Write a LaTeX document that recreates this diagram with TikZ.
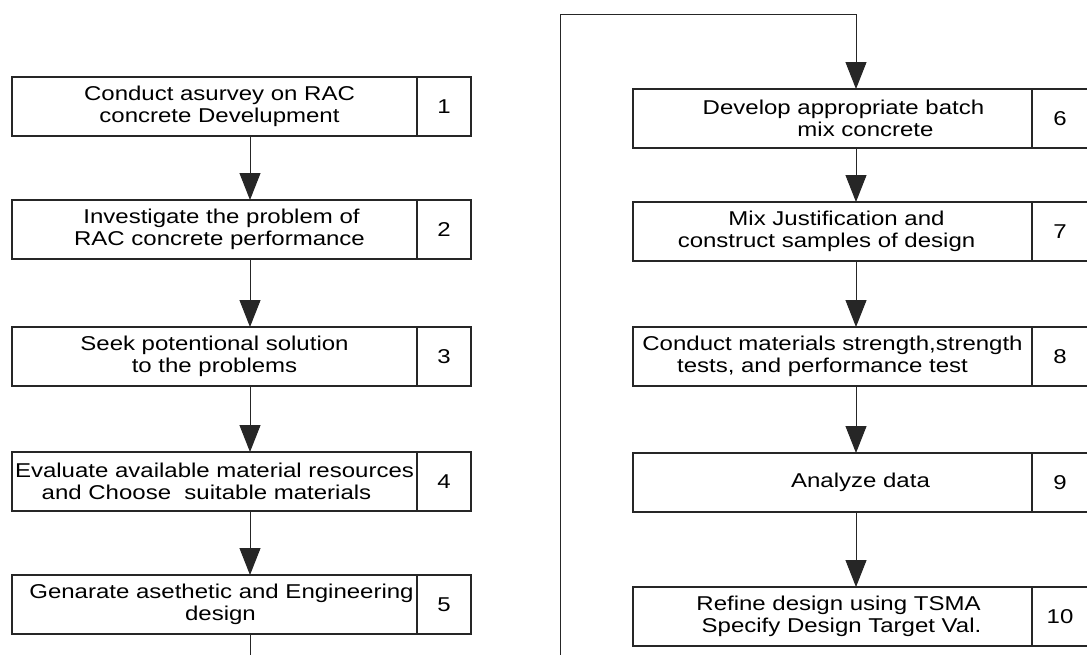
\documentclass[tikz,border=0pt]{standalone}
\usepackage{fontspec}
\setmainfont{Liberation Sans}[FakeStretch=1.2]
\usetikzlibrary{arrows.meta}
\begin{document}
\begin{tikzpicture}[x=1pt,y=-1pt,
  txtcell/.style={draw=black!85, line width=1.1pt, inner sep=0pt, outer sep=0pt,
    anchor=north west, minimum height=59pt, align=center,
    font=\fontsize{20}{22}\selectfont},
  lcell/.style={txtcell, minimum width=405pt},
  rcell/.style={txtcell, minimum width=399pt},
  numcell/.style={txtcell, minimum width=56pt},
  flow/.style={draw=black!85, line width=1pt, -{Triangle[length=27pt,width=21pt]}},
  plain/.style={draw=black!85, line width=1pt}]
\useasboundingbox (0,0) rectangle (1087,654);
\fill[white] (0,0) rectangle (1087,654);

% left column
\node[lcell] (t1) at (12,77) {\hspace*{10pt}Conduct asurvey on RAC\\\hspace*{10pt}concrete Develupment};
\node[numcell, minimum width=54pt] (n1) at (t1.north east) {1};
\node[lcell] (t2) at (12,200) {\hspace*{14pt}Investigate the problem of\\\hspace*{10pt}RAC concrete performance};
\node[numcell, minimum width=54pt] (n2) at (t2.north east) {2};
\node[lcell] (t3) at (12,327) {Seek potentional solution\\to the problems};
\node[numcell, minimum width=54pt] (n3) at (t3.north east) {3};
\node[lcell] (t4) at (12,452) {Evaluate available material resources\\and Choose\ \ suitable materials\hspace*{16pt}};
\node[numcell, minimum width=54pt] (n4) at (t4.north east) {4};
\node[lcell] (t5) at (12,575) {\hspace*{14pt}Genarate asethetic and Engineering\\\hspace*{12pt}design};
\node[numcell, minimum width=54pt] (n5) at (t5.north east) {5};

% right column
\node[rcell] (t6) at (633,89) {\hspace*{22pt}Develop appropriate batch\\\hspace*{66pt}mix concrete};
\node[numcell] (n6) at (t6.north east) {6};
\node[rcell] (t7) at (633,202) {\hspace*{8pt}Mix Justification and\\construct samples of design\hspace*{12pt}};
\node[numcell] (n7) at (t7.north east) {7};
\node[rcell] (t8) at (633,327) {Conduct materials strength,strength\\tests, and performance test\hspace*{20pt}};
\node[numcell] (n8) at (t8.north east) {8};
\node[rcell] (t9) at (633,453) {\hspace*{56pt}Analyze data};
\node[numcell] (n9) at (t9.north east) {9};
\node[rcell] (t10) at (633,587) {\hspace*{12pt}Refine design using TSMA\\\hspace*{18pt}Specify Design Target Val.};
\node[numcell] (n10) at (t10.north east) {10};

% connector helpers
\coordinate (la) at (250,0);
\coordinate (ra) at (856,0);
\coordinate (cutL) at (250,656);
\coordinate (cutR) at (560,656);
\coordinate (loopc) at (856,14);

\draw[flow] (t1.south -| la) -- (t2.north -| la);
\draw[flow] (t2.south -| la) -- (t3.north -| la);
\draw[flow] (t3.south -| la) -- (t4.north -| la);
\draw[flow] (t4.south -| la) -- (t5.north -| la);
\draw[plain] (t5.south -| la) -- (cutL);

\draw[flow] (cutR) |- (loopc) -- (t6.north -| ra);
\draw[flow] (t6.south -| ra) -- (t7.north -| ra);
\draw[flow] (t7.south -| ra) -- (t8.north -| ra);
\draw[flow] (t8.south -| ra) -- (t9.north -| ra);
\draw[flow] (t9.south -| ra) -- (t10.north -| ra);
\end{tikzpicture}
\end{document}
